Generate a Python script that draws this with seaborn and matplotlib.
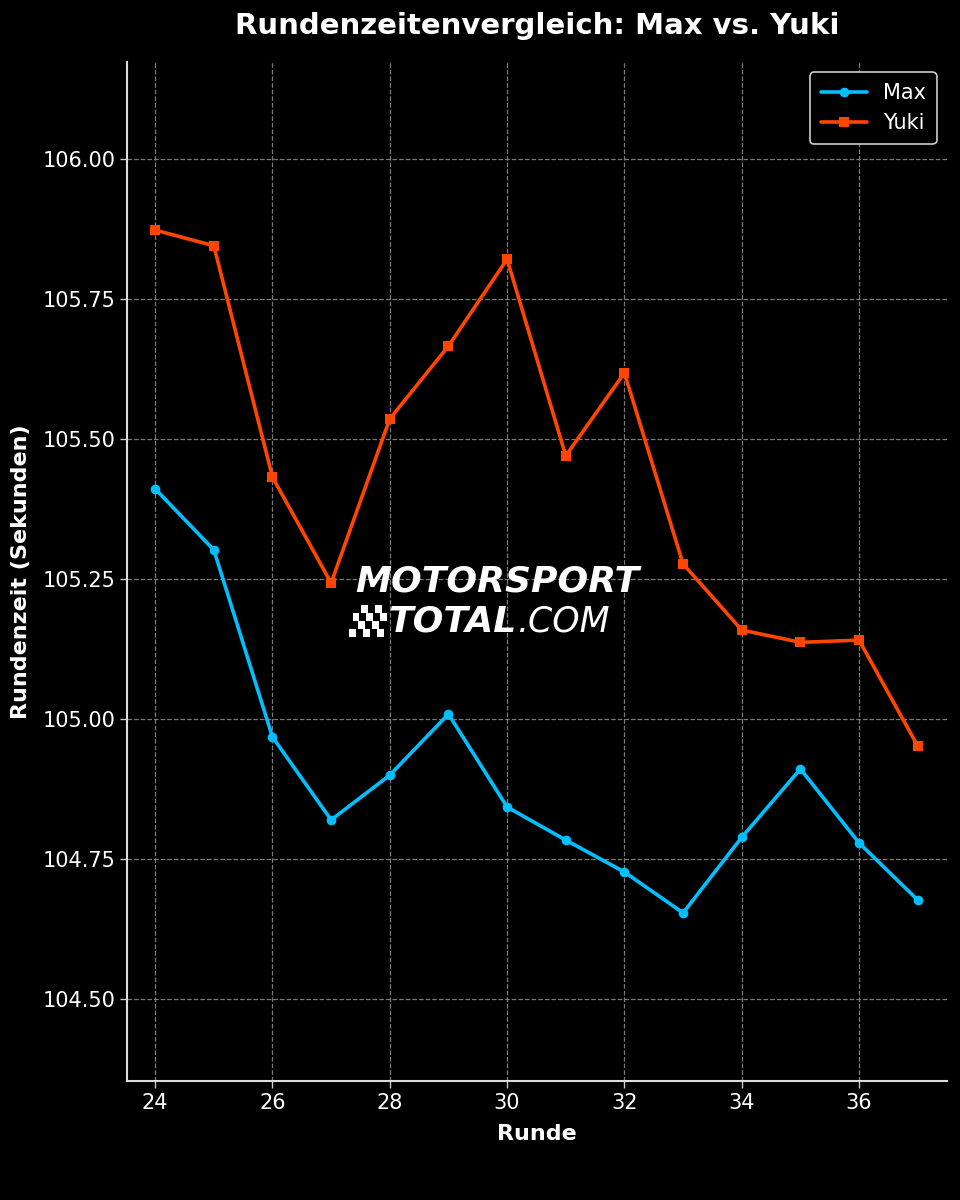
import matplotlib
matplotlib.use("Agg")
import matplotlib.pyplot as plt
import seaborn as sns
import pandas as pd
from matplotlib.patches import Rectangle

runden = list(range(24, 38))
max_zeiten = [105.411, 105.302, 104.968, 104.820, 104.900, 105.009, 104.843,
              104.784, 104.727, 104.654, 104.789, 104.911, 104.779, 104.677]
yuki_zeiten = [105.873, 105.845, 105.432, 105.243, 105.536, 105.666, 105.821,
               105.470, 105.618, 105.277, 105.159, 105.137, 105.141, 104.952]
fahrer = ["Max", "Yuki"]
farben = ["#00BFFF", "#FF4500"]
marker = ["o", "s"]
y_ticks = [104.50, 104.75, 105.00, 105.25, 105.50, 105.75, 106.00]
x_ticks = [24, 26, 28, 30, 32, 34, 36]

sns.set_theme(style="dark")
plt.rcParams['font.family'] = ['DejaVu Sans']

df = pd.DataFrame({
    "Runde": runden * 2,
    "Zeit": max_zeiten + yuki_zeiten,
    "Fahrer": ["Max"] * len(runden) + ["Yuki"] * len(runden),
})

fig = plt.figure(figsize=(9.6, 12), dpi=100, facecolor="black")
ax = fig.add_axes([0.1323, 0.0992, 0.8542, 0.8491])
ax.set_facecolor("black")

for name, col, mk in zip(fahrer, farben, marker):
    sub = df[df["Fahrer"] == name]
    sns.lineplot(data=sub, x="Runde", y="Zeit", ax=ax, color=col, marker=mk,
                 markersize=7, linewidth=2.6, markeredgewidth=0, label=name)

ax.set_xlim(23.52, 37.5)
ax.set_ylim(104.354, 106.173)
ax.set_xticks(x_ticks)
ax.set_yticks(y_ticks)
ax.set_yticklabels([f"{v:.2f}" for v in y_ticks])
ax.grid(True, color="#888888", linestyle="--", linewidth=0.9, alpha=0.9)
ax.tick_params(colors="white", labelsize=15, length=5, width=1, color="#cccccc",
               left=True, bottom=True)
for s in ["top", "right"]:
    ax.spines[s].set_visible(False)
for s in ["left", "bottom"]:
    ax.spines[s].set_visible(True)
    ax.spines[s].set_color("#dddddd")
    ax.spines[s].set_linewidth(1.5)

ax.set_xlabel("Runde", color="white", fontsize=16, fontweight="bold", labelpad=8)
ax.set_ylabel("Rundenzeit (Sekunden)", color="white", fontsize=16, fontweight="bold", labelpad=8)
ax.set_title("Rundenzeitenvergleich: Max vs. Yuki", color="white", fontsize=21,
             fontweight="bold", pad=20)

leg = ax.legend(loc="upper right", fontsize=15, facecolor="black", edgecolor="#cccccc",
                framealpha=1, labelcolor="white", borderpad=0.5, handlelength=2.2)
leg.get_frame().set_linewidth(1.2)

# watermark
ax.text(0.278, 0.490, "MOTORSPORT", transform=ax.transAxes, color="white",
        fontsize=26, fontweight="bold", fontstyle="italic", va="center", ha="left",
        zorder=5)
t2 = ax.text(0.318, 0.451, "TOTAL", transform=ax.transAxes, color="white",
             fontsize=26, fontweight="bold", fontstyle="italic", va="center", ha="left",
             zorder=5)
fig.canvas.draw()
bb = t2.get_window_extent(renderer=fig.canvas.get_renderer())
x_end = ax.transAxes.inverted().transform((bb.x1, bb.y0))[0]
ax.text(x_end + 0.002, 0.451, ".COM", transform=ax.transAxes, color="white",
        fontsize=25, fontweight="light", fontstyle="italic", va="center", ha="left",
        zorder=5)
sq_w, sq_h = 0.0085, 0.0078
x0, y0 = 0.271, 0.436
for j in range(4):
    for i in range(5):
        if (i + j) % 2 == 0:
            ax.add_patch(Rectangle((x0 + i * sq_w + j * 0.002, y0 + j * sq_h), sq_w, sq_h,
                                   transform=ax.transAxes, color="white", zorder=5, lw=0))

fig.savefig("out.png", dpi=100, facecolor="black")
